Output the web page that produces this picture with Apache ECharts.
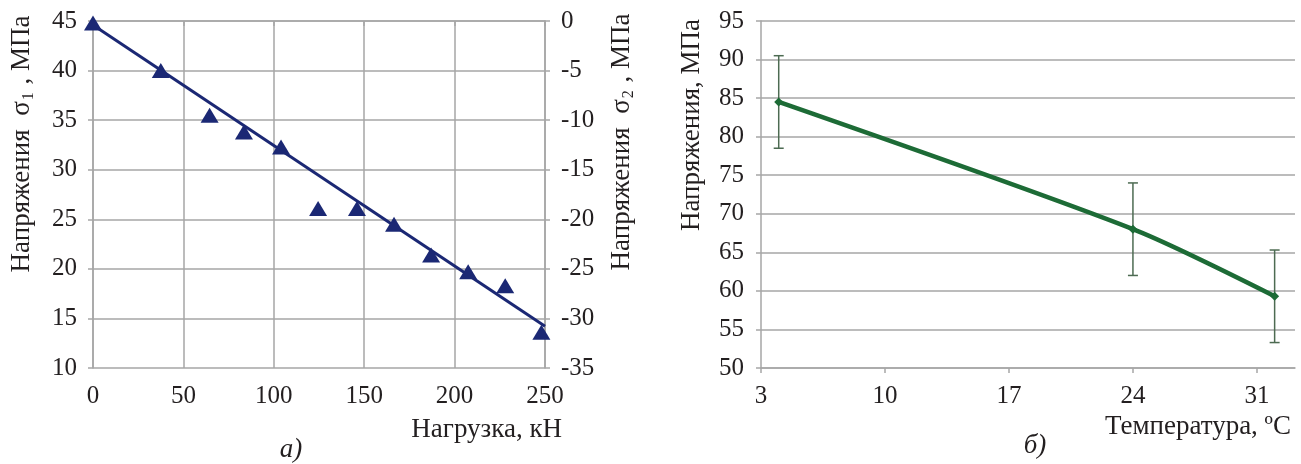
<!DOCTYPE html>
<html>
<head>
<meta charset="utf-8">
<script src="https://cdn.jsdelivr.net/npm/echarts@6/dist/echarts.min.js"></script>
<style>
html,body{margin:0;padding:0;background:#fff;}
#c{width:1301px;height:464px;}
</style>
</head>
<body>
<div id="c"></div>
<script>
// Panel a) data
const loadKN  = [0, 37.5, 64.5, 83.5, 104, 124.5, 146, 166.5, 187, 207.5, 228, 248];
const sigma1  = [44.8, 40.0, 35.5, 33.8, 32.3, 26.1, 26.1, 24.5, 21.4, 19.7, 18.3, 13.6];
const trendX  = [0, 250];
const trendY  = [44.6, 14.2];
// Panel б) data
const tempC   = [4, 24, 32];
const stress  = [84.5, 68.0, 59.3];
const errLow  = [78.5, 62.0, 53.3];
const errHigh = [90.5, 74.0, 65.3];
const tempTicks = [3, 10, 17, 24, 31];

const FONT = '"Liberation Serif", "DejaVu Serif", serif';
const TXT = '#231f20';
const GRID = '#a6a6a6';
const NAVY = '#1b2874';
const GREEN = '#1d6b36';
const FS = 25;
const TFS = 27;

const chart = echarts.init(document.getElementById('c'), null, {renderer: 'canvas'});

const axisLineStyle = {show: true, lineStyle: {color: GRID, width: 1.5}};
const tickStyle = {show: true, length: 5, lineStyle: {color: GRID, width: 1.5}};
const labelStyle = (m) => ({fontFamily: FONT, fontSize: FS, color: TXT, margin: m});

const option = {
  backgroundColor: '#fff',
  animation: false,
  grid: [
    {left: 93, top: 21, width: 452, height: 347},
    {left: 761, top: 21, width: 534, height: 347}
  ],
  xAxis: [
    {
      gridIndex: 0, type: 'value', min: 0, max: 250, interval: 50,
      axisLine: axisLineStyle, axisTick: tickStyle,
      axisLabel: labelStyle(16),
      splitLine: {show: true, lineStyle: {color: GRID, width: 1.5}}
    },
    {
      gridIndex: 1, type: 'value', min: 3, max: 33.15,
      axisLine: axisLineStyle,
      axisTick: Object.assign({customValues: tempTicks}, tickStyle),
      axisLabel: Object.assign({customValues: tempTicks}, labelStyle(16)),
      splitLine: {show: false}
    }
  ],
  yAxis: [
    {
      gridIndex: 0, type: 'value', min: 10, max: 45, interval: 5, position: 'left',
      axisLine: axisLineStyle, axisTick: tickStyle,
      axisLabel: labelStyle(16),
      splitLine: {show: true, lineStyle: {color: GRID, width: 1.5}}
    },
    {
      gridIndex: 0, type: 'value', min: -35, max: 0, interval: 5, position: 'right',
      axisLine: axisLineStyle, axisTick: tickStyle,
      axisLabel: labelStyle(16),
      splitLine: {show: false}
    },
    {
      gridIndex: 1, type: 'value', min: 50, max: 95, interval: 5,
      axisLine: axisLineStyle, axisTick: tickStyle,
      axisLabel: labelStyle(17),
      splitLine: {show: true, lineStyle: {color: GRID, width: 1.5}}
    }
  ],
  series: [
    {
      type: 'line', xAxisIndex: 0, yAxisIndex: 0,
      data: trendX.map((x, i) => [x, trendY[i]]),
      showSymbol: false, symbol: 'none',
      lineStyle: {color: NAVY, width: 3}, z: 2
    },
    {
      type: 'scatter', xAxisIndex: 0, yAxisIndex: 0,
      data: loadKN.map((x, i) => [x, sigma1[i]]),
      symbol: 'triangle', symbolSize: [18, 15],
      itemStyle: {color: NAVY, opacity: 1}, z: 3
    },
    {
      type: 'custom', xAxisIndex: 1, yAxisIndex: 2,
      data: tempC.map((x, i) => [x, errLow[i], errHigh[i]]),
      renderItem: function (params, api) {
        const x = api.value(0);
        const lo = api.coord([x, api.value(1)]);
        const hi = api.coord([x, api.value(2)]);
        const w = 5;
        const st = {stroke: '#4d6b52', lineWidth: 1.5};
        return {
          type: 'group',
          children: [
            {type: 'line', shape: {x1: lo[0], y1: lo[1], x2: hi[0], y2: hi[1]}, style: st},
            {type: 'line', shape: {x1: lo[0] - w, y1: lo[1], x2: lo[0] + w, y2: lo[1]}, style: st},
            {type: 'line', shape: {x1: hi[0] - w, y1: hi[1], x2: hi[0] + w, y2: hi[1]}, style: st}
          ]
        };
      },
      z: 2
    },
    {
      type: 'line', xAxisIndex: 1, yAxisIndex: 2,
      data: tempC.map((x, i) => [x, stress[i]]),
      smooth: 0.25,
      symbol: 'diamond', symbolSize: 9, showSymbol: true,
      itemStyle: {color: GREEN},
      lineStyle: {color: GREEN, width: 4.5}, z: 3
    }
  ],
  graphic: [
    {
      type: 'text', x: 22, y: 144, rotation: Math.PI / 2,
      style: {
        text: '{a|Напряжения  σ}{s|1}{a| , МПа}',
        align: 'center', verticalAlign: 'middle',
        rich: {
          a: {fontFamily: FONT, fontSize: TFS, fill: TXT, lineHeight: 30},
          s: {fontFamily: FONT, fontSize: 16, fill: TXT, lineHeight: 30, verticalAlign: 'bottom', padding: [0, 1, 0, 1]}
        }
      }
    },
    {
      type: 'text', x: 622, y: 142, rotation: Math.PI / 2,
      style: {
        text: '{a|Напряжения  σ}{s|2}{a| , МПа}',
        align: 'center', verticalAlign: 'middle',
        rich: {
          a: {fontFamily: FONT, fontSize: TFS, fill: TXT, lineHeight: 30},
          s: {fontFamily: FONT, fontSize: 16, fill: TXT, lineHeight: 30, verticalAlign: 'bottom', padding: [0, 1, 0, 1]}
        }
      }
    },
    {
      type: 'text', x: 692, y: 125, rotation: Math.PI / 2,
      style: {
        text: 'Напряжения, МПа', align: 'center', verticalAlign: 'middle',
        font: TFS + 'px ' + FONT, fill: TXT
      }
    },
    {
      type: 'text', x: 562, y: 430,
      style: {
        text: 'Нагрузка, кН', align: 'right', verticalAlign: 'middle',
        font: TFS + 'px ' + FONT, fill: TXT
      }
    },
    {
      type: 'text', x: 1291, y: 427,
      style: {
        text: 'Температура, ºC', align: 'right', verticalAlign: 'middle',
        font: TFS + 'px ' + FONT, fill: TXT
      }
    },
    {
      type: 'text', x: 291, y: 450,
      style: {
        text: 'a)', align: 'center', verticalAlign: 'middle',
        font: 'italic ' + TFS + 'px ' + FONT, fill: TXT
      }
    },
    {
      type: 'text', x: 1035, y: 446,
      style: {
        text: 'б)', align: 'center', verticalAlign: 'middle',
        font: 'italic ' + TFS + 'px ' + FONT, fill: TXT
      }
    }
  ]
};
chart.setOption(option);
</script>
</body>
</html>
